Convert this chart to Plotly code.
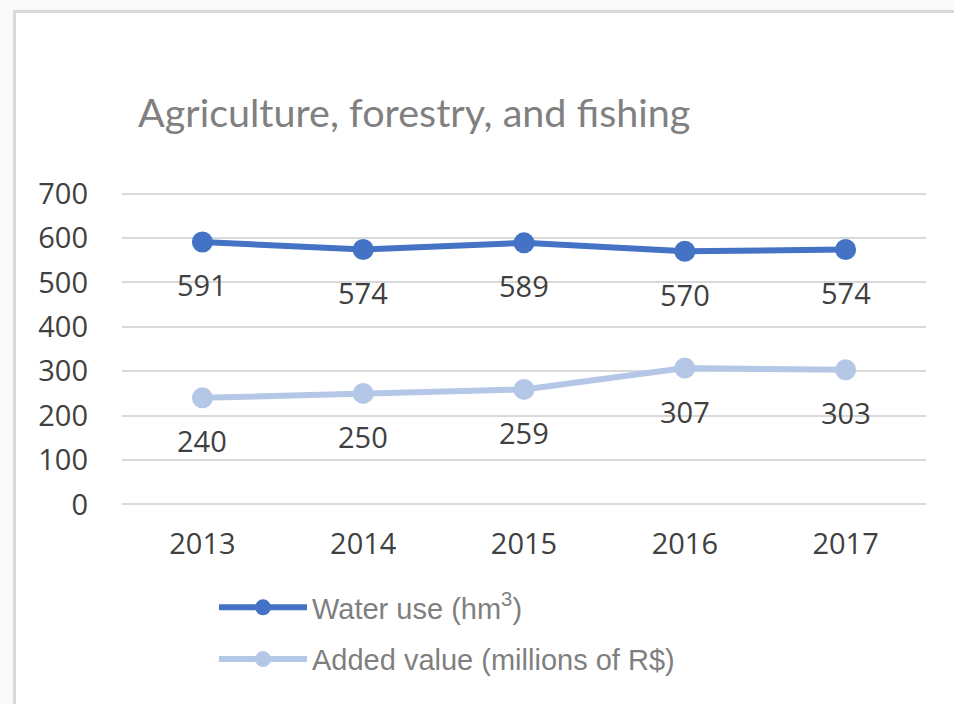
import plotly.graph_objects as go

# Data
years = [2013, 2014, 2015, 2016, 2017]
water_use = [591, 574, 589, 570, 574]
added_value = [240, 250, 259, 307, 303]
series_names = ["Water use (hm<sup>3</sup>)", "Added value (millions of R$)"]
y_ticks = [0, 100, 200, 300, 400, 500, 600, 700]

DARK_BLUE = "#4472C4"
LIGHT_BLUE = "#B4C7E7"
LABEL_COLOR = "#404040"
GRID = "#D9D9D9"

W, H = 954, 704
L, R, T, B = 122, 28, 190, 196
Y_RANGE = [-8, 708]

fig = go.Figure()

for name, vals, col, grp in [
    (series_names[0], water_use, DARK_BLUE, "a"),
    (series_names[1], added_value, LIGHT_BLUE, "b"),
]:
    fig.add_trace(go.Scatter(
        x=years, y=vals, name=name, mode="lines+markers",
        line=dict(color=col, width=6),
        marker=dict(color=col, size=21),
        legendgroup=grp,
        hoverinfo="skip",
    ))
    # value labels under each point
    for xv, yv in zip(years, vals):
        fig.add_annotation(
            x=xv, y=yv, text=str(yv), showarrow=False,
            yshift=-43, xanchor="center", yanchor="middle",
            font=dict(family="Open Sans", size=29, color=LABEL_COLOR),
        )

# chart frame
px_to_x = lambda p: (p - L) / (W - L - R)
px_to_y = lambda p: (H - B - p) / (H - T - B)
fig.add_shape(
    type="rect", xref="paper", yref="paper", layer="below",
    x0=px_to_x(14.5), x1=px_to_x(W + 20),
    y0=px_to_y(H + 20), y1=px_to_y(11.5),
    line=dict(color=GRID, width=3), fillcolor="white",
)

fig.update_layout(
    width=W, height=H,
    margin=dict(l=L, r=R, t=T, b=B, pad=0),
    paper_bgcolor="#F9F9F9",
    plot_bgcolor="rgba(0,0,0,0)",
    title=dict(
        text="Agriculture, forestry, and fishing",
        xref="container", yref="container",
        x=138 / W, xanchor="left",
        y=1 - 113 / H, yanchor="middle",
        font=dict(family="Lato", size=39.5, color="#808080"),
    ),
    xaxis=dict(
        range=[2012.5, 2017.5], tickvals=years, ticktext=[str(y) for y in years],
        showgrid=False, zeroline=False, showline=False,
        ticks="", tickfont=dict(family="Open Sans", size=29, color=LABEL_COLOR),
        ticklabelstandoff=16,
    ),
    yaxis=dict(
        range=Y_RANGE, tickvals=y_ticks, showgrid=True,
        gridcolor=GRID, gridwidth=2, zeroline=False, showline=False,
        ticks="", tickfont=dict(family="Open Sans", size=29, color=LABEL_COLOR),
        ticklabelstandoff=33,
    ),
    showlegend=True,
    legend=dict(
        orientation="v",
        x=px_to_x(214), xanchor="left",
        y=px_to_y(582), yanchor="top",
        font=dict(family="Liberation Sans, Arial", size=29, color="#7F7F7F"),
        bgcolor="rgba(0,0,0,0)",
        itemwidth=88,
        tracegroupgap=11,
        traceorder="grouped",
    ),
)

fig.write_html("out.html")
